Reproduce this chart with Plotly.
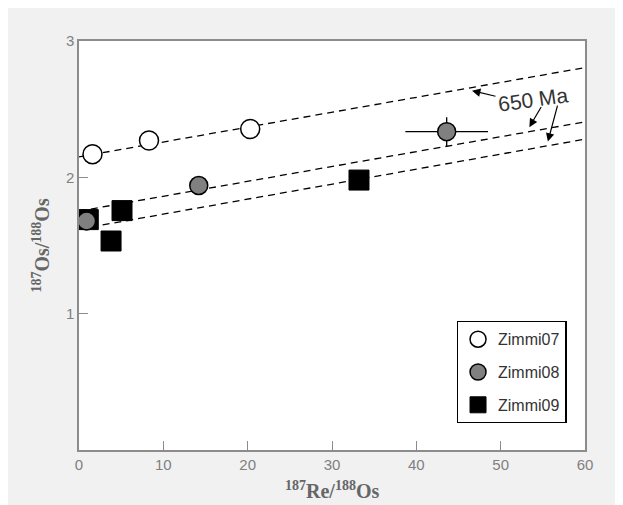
import plotly.graph_objects as go

# ---- data ----
z07_x = [1.6, 8.3, 20.3]
z07_y = [2.17, 2.27, 2.355]

z08_x = [0.9, 14.2, 43.6]
z08_y = [1.68, 1.94, 2.335]
z08_xerr = [0, 0, 4.9]
z08_yerr = [0, 0, 0.105]

z09_x = [1.1, 5.1, 3.8, 33.2]
z09_y = [1.69, 1.756, 1.533, 1.98]

iso_x = [0, 60]
iso_a_y = [2.15, 2.805]
iso_b_y = [1.752, 2.407]
iso_c_y = [1.62, 2.28]

x_ticks = [0, 10, 20, 30, 40, 50, 60]
y_ticks = [1, 2, 3]

SANS = "Liberation Sans, Arial, sans-serif"
SERIF = "Liberation Serif, Times New Roman, serif"
AX = "#8c8c8c"

fig = go.Figure()

for yy in (iso_a_y, iso_b_y, iso_c_y):
    fig.add_trace(go.Scatter(x=iso_x, y=yy, mode="lines", showlegend=False,
                             hoverinfo="skip",
                             line=dict(color="black", width=1.3, dash="7px,5px")))

fig.add_trace(go.Scatter(x=z07_x, y=z07_y, mode="markers", name="Zimmi07",
                         legendrank=1, legendgroup="a",
                         marker=dict(symbol="circle", size=19, color="white",
                                     line=dict(color="black", width=1.5))))
fig.add_trace(go.Scatter(x=z09_x, y=z09_y, mode="markers", name="Zimmi09",
                         legendrank=3, legendgroup="c",
                         marker=dict(symbol="square", size=20, color="black",
                                     line=dict(color="black", width=1))))
fig.add_trace(go.Scatter(x=z08_x, y=z08_y, mode="markers", name="Zimmi08",
                         legendrank=2, legendgroup="b",
                         error_x=dict(type="data", array=z08_xerr, color="black",
                                      thickness=1.3, width=0),
                         error_y=dict(type="data", array=z08_yerr, color="black",
                                      thickness=1.3, width=0),
                         marker=dict(symbol="circle", size=18, color="#808080",
                                     line=dict(color="black", width=1.5))))

annotations = [
    dict(x=0.5, y=-0.098, xref="paper", yref="paper", showarrow=False,
         text="<b><sup>187</sup>Re/<sup>188</sup>Os</b>",
         font=dict(family=SERIF, size=20, color="#666666"),
         xanchor="center", yanchor="middle"),
    dict(x=-0.077, y=0.5, xref="paper", yref="paper", showarrow=False,
         text="<b><sup>187</sup>Os/<sup>188</sup>Os</b>", textangle=-90,
         font=dict(family=SERIF, size=20, color="#666666"),
         xanchor="center", yanchor="middle"),
    dict(x=53.8, y=2.57, xref="x", yref="y", showarrow=False, text="650 Ma",
         textangle=-8, font=dict(family=SANS, size=21, color="#333333"),
         xanchor="center", yanchor="middle"),
]
for hx, hy, ax, ay in [(46.6, 2.636, 25, 6), (53.4, 2.368, 12.7, -21.6),
                       (55.6, 2.262, 10, -37.4)]:
    annotations.append(dict(x=hx, y=hy, xref="x", yref="y", text="",
                            showarrow=True, ax=ax, ay=ay, arrowhead=2,
                            arrowsize=1.4, arrowwidth=1.2, arrowcolor="black",
                            standoff=0, startstandoff=0))

fig.update_layout(
    width=623, height=505, autosize=False,
    margin=dict(l=71, r=46, t=33, b=63),
    paper_bgcolor="#f1f1f1", plot_bgcolor="white",
    showlegend=True,
    legend=dict(x=0.7465, y=0.3154, xanchor="left", yanchor="top",
                bgcolor="white", bordercolor="black", borderwidth=1.3,
                font=dict(family=SANS, size=16, color="#333333"),
                tracegroupgap=9),
    annotations=annotations,
    xaxis=dict(range=[0, 60], tickvals=x_ticks, ticks="inside", ticklen=9,
               tickwidth=1.3, tickcolor=AX, showline=True, linecolor=AX,
               linewidth=1.5, mirror=True, showgrid=False, zeroline=False,
               tickfont=dict(family=SANS, size=15, color="#808080")),
    yaxis=dict(range=[0, 3], tickvals=y_ticks, ticks="inside", ticklen=9,
               tickwidth=1.3, tickcolor=AX, showline=True, linecolor=AX,
               linewidth=1.5, mirror=True, showgrid=False, zeroline=False,
               tickfont=dict(family=SANS, size=15, color="#808080")),
)

fig.write_html("out.html")
